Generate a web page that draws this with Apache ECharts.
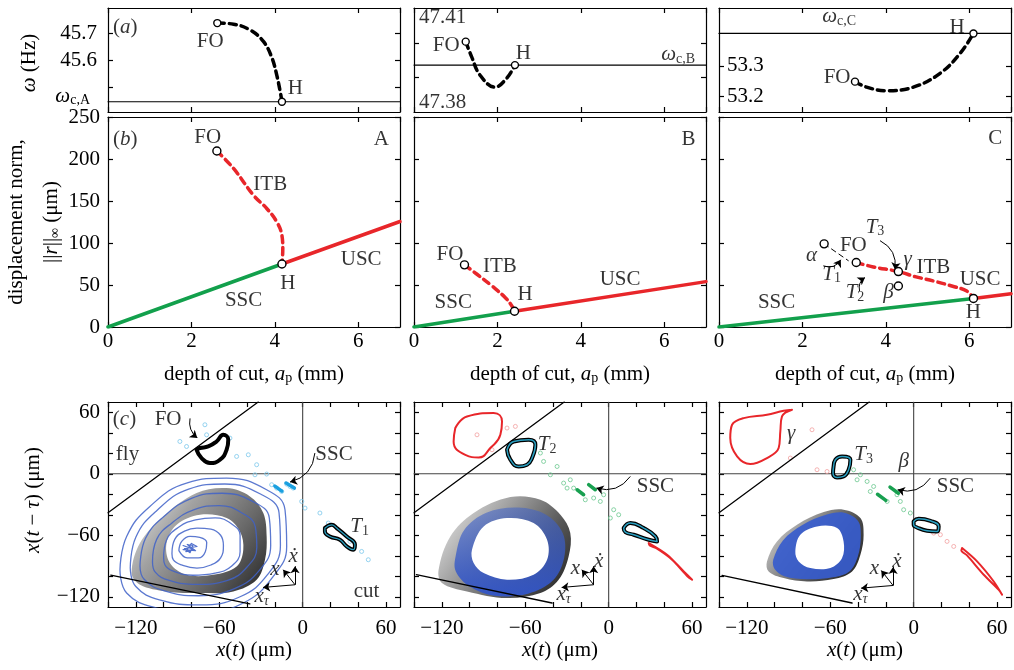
<!DOCTYPE html>
<html><head><meta charset="utf-8">
<script src="https://cdn.jsdelivr.net/npm/echarts@6/dist/echarts.min.js"></script>
<style>html,body{margin:0;padding:0;background:#fff}#c{width:1014px;height:670px}</style>
</head><body><div id="c"></div><script>
// ---------------- DATA ----------------
// Row (a): frequency of the unstable periodic orbit vs depth of cut
const freqA = [[2.62,45.737],[3.01,45.733],[3.41,45.711],[3.73,45.668],[3.93,45.608],[4.05,45.541],[4.13,45.481],[4.17,45.445]];
const freqB = [[1.24,47.4004],[1.38,47.3960],[1.58,47.3906],[1.94,47.3870],[2.22,47.3896],[2.42,47.3935]];
const freqC = [[3.26,53.249],[3.54,53.231],[4.02,53.219],[4.66,53.231],[5.30,53.276],[5.78,53.341],[6.10,53.406]];
const omegaCrit = [45.445, 47.3935, 53.406];
const freqPtsA = [[2.62,45.737],[4.17,45.445]];
const freqPtsB = [[1.24,47.4004],[2.42,47.3935]];
const freqPtsC = [[3.26,53.249],[6.10,53.406]];

// Row (b): displacement norm vs depth of cut
const sscA = [[0,0],[4.17,75]];
const uscA = [[4.17,75],[7,125.6]];
const itbA = [[2.61,209.5],[3.01,188.7],[3.49,156.7],[3.81,140.8],[4.05,124.8],[4.17,108.8],[4.19,92.8],[4.17,75]];
const sscB = [[0,0],[2.41,18.8]];
const uscB = [[2.41,18.8],[7,54]];
const itbB = [[1.21,74],[1.51,62.8],[1.87,48.8],[2.19,34.9],[2.35,24.8],[2.41,18.8]];
const sscC = [[0,0],[6.1,34]];
const uscC = [[6.1,34],[7,39.7]];
const itbC = [[3.29,76.8],[3.7,71.5],[4.3,66],[4.7,60],[5.14,54.8],[5.6,48.5],[5.94,42.8],[6.1,34]];
const alphaBranch = [[2.52,99],[3.1,79]];
const normPtsA = [[2.61,209.5],[4.17,75]];
const normPtsB = [[1.21,74],[2.41,18.8]];
const normPtsC = [[3.29,76.8],[6.1,34],[2.52,99],[4.3,48.8],[4.3,66]];

// Row (c): phase portraits x(t) vs x(t - tau)
const flyLine = [[-140,-38],[-32,70]];
const edgeLineA = [[-138,-99],[-38,-127]];
const edgeLineB = [[-138.3,-98.5],[-40.7,-126.1]];
const edgeLineC = [[-137.8,-99.2],[-44.3,-126.1]];

const torusOuterA = [[-123,-96.9],[-117,-67.6],[-100.3,-41.6],[-76.3,-18.8],[-54.7,-14],[-37.9,-22.1],[-28.3,-38.3],[-25.9,-61.2],[-27.1,-83.9],[-33.1,-103.4],[-49.9,-114.8],[-73.9,-116.4],[-97.9,-114.8],[-117,-108.3]];
const torusHoleA = [[-97.9,-67.6],[-90.6,-49.8],[-73.9,-40],[-54.7,-43.2],[-45.1,-56.3],[-42.7,-74.1],[-47.5,-90.4],[-64.3,-98.5],[-83.5,-98.5],[-95.5,-87.1]];
const torusOuterB = [[-122.3,-93.7],[-113.9,-61.2],[-97.1,-38.3],[-70.7,-22.8],[-49.1,-25.4],[-34.7,-40],[-27.6,-57.9],[-28.8,-80.7],[-36,-103.4],[-49.1,-116.4],[-73.1,-121.3],[-101.9,-114.8],[-119.9,-106.6]];
const torusHoleB = [[-98.3,-74.1],[-89.9,-51.4],[-73.1,-43.2],[-54,-48.1],[-44.3,-64.4],[-44.3,-83.9],[-54,-98.5],[-73.1,-103.4],[-89.9,-96.9],[-97.1,-87.1]];
const blueBandB = [[-110,-80],[-104,-55],[-88,-38],[-65,-33],[-45,-40],[-33,-58],[-32,-82],[-40,-104],[-58,-117],[-82,-119],[-100,-110],[-110,-95]];
const torusOuterC = [[-105.5,-85.5],[-98.3,-66],[-83.9,-49.8],[-64.7,-37.4],[-50.4,-35.1],[-38.3,-43.2],[-36,-59.5],[-38.3,-79],[-44.3,-95.3],[-57.6,-102.8],[-76.7,-105.1],[-93.5,-101.8],[-104.3,-95.3]];
const torusHoleC = [[-85.1,-75.8],[-81.5,-59.5],[-69.5,-51.4],[-55.1,-53],[-50.4,-66],[-51.5,-82.3],[-59.9,-92],[-74.3,-92],[-82.7,-85.5]];
const blueBandC = [[-101,-84],[-94,-65],[-80,-50],[-63,-40],[-50,-38],[-40,-46],[-38,-60],[-40,-80],[-46,-95],[-58,-101],[-77,-103],[-93,-100],[-100,-93]];

// blue transient spiral (case A)
const spiralA = [
 [[-131.4,-93.7],[-126.6,-61.2],[-109.9,-31.9],[-83.5,-9.1],[-54.7,-4.2],[-25.9,-15.6],[-12.7,-35.1],[-11.5,-70.9],[-21.2,-100.2],[-42.7,-126.1],[-73.9,-135.9],[-105,-131],[-126.6,-116.4]],
 [[-124,-92],[-120,-62],[-105,-36],[-82,-15],[-56,-10],[-30,-20],[-17,-38],[-16,-70],[-25,-98],[-45,-120],[-74,-128],[-103,-123],[-120,-110]],
 [[-117,-90],[-113,-63],[-100,-42],[-80,-24],[-58,-19],[-36,-27],[-24,-43],[-23,-70],[-31,-94],[-49,-112],[-75,-119],[-100,-114],[-114,-103]],
 [[-108,-86],[-105,-64],[-94,-48],[-78,-35],[-60,-31],[-44,-38],[-34,-52],[-33,-72],[-40,-91],[-54,-104],[-76,-108],[-96,-104],[-106,-96]],
 [[-100,-82],[-98,-65],[-89,-52],[-77,-45],[-63,-43],[-51,-49],[-45,-60],[-45,-76],[-51,-90],[-63,-97],[-79,-99],[-93,-95],[-99,-89]],
 [[-94,-78],[-92,-64],[-85,-56],[-76,-53],[-66,-54],[-59,-60],[-57,-70],[-59,-82],[-66,-89],[-76,-92],[-87,-89],[-93,-84]],
 [[-89,-75],[-87,-66],[-81,-61],[-74,-62],[-69,-67],[-70,-76],[-75,-82],[-83,-82]]
];
const spiralCoreA = [[-86,-70],[-78,-74],[-84,-76],[-80,-68],[-76,-71],[-85,-73],[-81,-77],[-79,-70],[-83,-69],[-77,-75],[-86,-74]];

const foOrbitA = [[-76.3,23.4],[-72.7,15.3],[-66.7,10.4],[-59.5,13.7],[-54.7,23.4],[-53.5,33.2],[-57.1,38],[-61.9,31.5],[-67.9,26.6],[-73.9,25.1]];
const t1OrbitA = [[16,-53],[20.9,-49.8],[24.5,-53],[31.7,-61.2],[37.6,-69.3],[36.4,-74.1],[31.7,-70.9],[26.8,-64.4],[19.6,-61.2],[16,-56.3]];
const dotsA = [[-70.3,47.8],[-69.1,38],[-83.5,26.6],[-88.3,31.5],[-52.3,34.8],[-47.5,16.9],[-39.1,18.5],[-33.1,8.8],[-34.3,-1],[-25.9,-0.3],[-22.3,-10.7],[-18.7,-14],[-15.1,-17.3],[-11.5,-10.1],[-9.1,-12.4],[-6.8,-14],[-0.7,-27],[1.7,-33.5],[12.4,-38.3],[18.4,-48.1],[34,-66],[42.4,-75.8],[47.2,-83.9]];
const sscSegA = [[[-20,-12],[-15,-17]],[[-12,-9],[-6,-14]]];

const redOrbitB = [[-110.3,44.6],[-101.9,55.9],[-82.7,59.2],[-76.7,51],[-77.9,38],[-85.1,25.1],[-93.5,15.9],[-103.1,18.5],[-111.5,31.5]];
const t2OrbitUpB = [[-73.1,23.4],[-68.3,31.5],[-57.6,33.2],[-52.7,28.3],[-55.1,15.3],[-58.7,8.8],[-64.7,7.1],[-70.7,13.7]];
const t2OrbitLoB = [[10.8,-53],[15.6,-48.1],[25.2,-53],[33.6,-61.2],[34.8,-66],[28.8,-64.4],[18,-59.5],[12,-56.9]];
const redTailB = [[28.8,-67.6],[42,-79],[54,-95.3],[60,-103.4],[56.8,-100.2],[45.6,-83.9],[34.8,-73.2],[29.5,-70]];
const greenDotsB = [[-49.1,20.2],[-46.8,12],[-41.9,-1],[-37.1,7.1],[-32.4,-9.1],[-27.6,-5.9],[-25.2,-14],[-16.8,-25.4],[-6,-27],[-3.6,-20.5],[3.6,-35.1],[7.2,-40],[1.2,-43.2],[-10.8,-23.7],[-29.9,-14]];
const pinkDotsB = [[-94.7,38],[-73.1,44.6],[-67.1,46.2],[-83.9,23.4]];
const sscSegB = [[[-22.7,-15.6],[-18,-20.5]],[[-14.4,-10.7],[-9.6,-15.6]]];

const gammaOrbitC = [[-87.5,62.4],[-94.7,55.9],[-95.9,41.3],[-97.1,25.1],[-105.5,15.3],[-117.5,9.4],[-127,16.9],[-131.9,34.8],[-130.6,47.8],[-122.3,54.3],[-105.5,57.6],[-93.5,61.5]];
const t3OrbitUpC = [[-57.6,7.1],[-56.3,13.7],[-51.5,16.9],[-45.5,13.7],[-46.8,3.9],[-50.4,-2.6],[-55.1,-3.6],[-58,0.7]];
const t3OrbitLoC = [[0,-46.5],[3.6,-43.9],[12,-45.9],[18,-51.4],[16.8,-56.3],[9.6,-55.6],[2.4,-52.4],[0,-49.8]];
const redTailC = [[34.8,-72.5],[45.6,-85.5],[57.6,-105.1],[63.6,-118],[61.2,-113.2],[50.4,-98.5],[38.4,-79.7],[34.3,-74.8]];
const greenDotsC = [[-47.9,0.7],[-43.2,3.9],[-38.3,-1],[-33.5,-7.5],[-28.8,-12.4],[-19.1,-27],[-9.6,-27],[-7.2,-35.1],[-2.4,-38.3],[-12,-20.5],[-40.7,-5.9],[-31.2,-17.3]];
const pinkDotsC = [[-88.7,15.3],[-73.1,42.9],[-69.5,3.9],[-62.3,2.2],[14.4,-57.9],[19.2,-59.5],[24,-66],[28.8,-70.9]];
const sscSegC = [[[-26,-20],[-20,-26]],[[-17,-13],[-11,-19]]];

// coordinate triad (origin and arrow directions, data units)
const triadOrigin = [[-5.5,-108.3],[-10.8,-108.3],[-14.8,-109]];
const triadDirs = [[0,18],[-23,-2.6],[-8.5,14.6]];

// ---------------- STYLE ----------------
const F = "'Liberation Serif','Times New Roman',serif";
const FS = 21, SUB = 14;
const rich = {
  i:{fontFamily:F,fontSize:FS,fontStyle:'italic',color:'#000'},
  s:{fontFamily:F,fontSize:SUB,color:'#000',padding:[9,0,0,0]},
  si:{fontFamily:F,fontSize:SUB,fontStyle:'italic',color:'#000',padding:[9,0,0,0]}
};
const RED='#e8262a', GREEN='#12a04c', BLUE='#3f62c8';
const COLS=[108,414,719], PW=292;
const ROWS=[[8,104],[117,210],[402,205]];
const minus = v => (v<0?'\u2212'+Math.abs(v):String(v));

const grids=[], xAxes=[], yAxes=[], series=[];
function axis(gi,pos,spec,showLabel){
  const a={type:'value',gridIndex:gi,position:pos,min:spec.min,max:spec.max,scale:true,
    axisLine:{show:true,onZero:false,lineStyle:{color:'#000',width:1.2}},
    axisTick:{show:true,inside:true,length:5,lineStyle:{color:'#000',width:1.2}},
    splitLine:{show:false},
    axisLabel:{show:!!showLabel,fontFamily:F,fontSize:FS,color:'#000',margin:spec.margin==null?8:spec.margin,rich:rich,
      showMinLabel:true,showMaxLabel:spec.noMax?false:true}};
  if(spec.interval!=null) a.interval=spec.interval;
  if(spec.ticks) a.axisTick.customValues=spec.ticks;
  if(spec.labels) a.axisLabel.customValues=spec.labels;
  if(spec.fmt) a.axisLabel.formatter=spec.fmt;
  if(spec.inside) a.axisLabel.inside=true;
  return a;
}
const xSpecs=[
  {min:0,max:7,interval:2,noMax:true},
  {min:0,max:7,interval:2,margin:4,noMax:true,fmt:v=>(v>6.5?'':String(v))},
  {min:-140,max:70,interval:20,margin:11,noMax:true,fmt:v=>([-120,-60,0,60].indexOf(v)>=0?minus(v):'')}
];
const ySpecs=[
  [{min:45.407,max:45.793,ticks:[45.5,45.6,45.7],labels:[45.6,45.7],margin:11,fmt:v=>v.toFixed(1)},
   {min:47.3797,max:47.4103,ticks:[47.39,47.40]},
   {min:53.15,max:53.489,ticks:[53.2,53.3],labels:[53.2,53.3],inside:true,margin:8,fmt:v=>v.toFixed(1)}],
  [{min:0,max:250,interval:50,margin:8},{min:0,max:250,interval:50},{min:0,max:250,interval:50}],
  [{min:-130,max:70,ticks:[-120,-100,-80,-60,-40,-20,0,20,40,60],labels:[-120,-60,0,60],margin:8,fmt:v=>minus(v)},
   {min:-130,max:70,ticks:[-120,-100,-80,-60,-40,-20,0,20,40,60]},
   {min:-130,max:70,ticks:[-120,-100,-80,-60,-40,-20,0,20,40,60]}]
];
for(let r=0;r<3;r++) for(let c=0;c<3;c++){
  const gi=r*3+c;
  grids.push({left:COLS[c],top:ROWS[r][0],width:PW,height:ROWS[r][1],show:false,containLabel:false});
  xAxes.push(axis(gi,'bottom',xSpecs[r],r>=1));
  xAxes.push(axis(gi,'top',xSpecs[r],false));
  const ys=ySpecs[r][c];
  yAxes.push(axis(gi,'left',ys,(r===0&&c!==1)||(r>=1&&c===0)));
  yAxes.push(axis(gi,'right',ys,false));
}

// ---------------- SERIES HELPERS ----------------
const ax = gi => ({xAxisIndex:2*gi,yAxisIndex:2*gi});
function lineS(gi,data,color,width,opts){
  opts=opts||{};
  return Object.assign({type:'line',data:data,symbol:'none',showSymbol:false,silent:true,clip:true,
    smooth:opts.smooth||false,z:opts.z||3,
    lineStyle:{color:color,width:width,type:opts.dash||'solid',opacity:opts.opacity==null?1:opts.opacity,cap:'round',join:'round'}},ax(gi));
}
const closeLoop = a => a.concat([a[0]]);
function ptsS(gi,data,size){
  return Object.assign({type:'scatter',data:data,symbol:'circle',symbolSize:size||8,silent:true,z:10,
    itemStyle:{color:'#fff',borderColor:'#000',borderWidth:1.4,opacity:1}},ax(gi));
}
function dotsS(gi,data,color,z){
  return Object.assign({type:'scatter',data:data,symbol:'circle',symbolSize:4,silent:true,z:z||4,
    itemStyle:{color:'rgba(255,255,255,0)',borderColor:color,borderWidth:1}},ax(gi));
}
function textS(gi,items){
  return Object.assign({type:'scatter',symbolSize:1,silent:true,z:20,itemStyle:{color:'rgba(0,0,0,0)'},
    data:items.map(t=>({value:[t[0],t[1]],name:t[2],label:{align:t[3]||'center'}})),
    label:{show:true,position:'inside',formatter:'{b}',fontFamily:F,fontSize:FS,color:'#000',verticalAlign:'middle',rich:rich}},ax(gi));
}
function arrowS(gi,pairs,curv){
  return Object.assign({type:'lines',coordinateSystem:'cartesian2d',silent:true,z:15,
    symbol:['none','arrow'],symbolSize:7,
    lineStyle:{color:'#000',width:1,curveness:curv||0,opacity:1},
    data:pairs.map(p=>({coords:p}))},ax(gi));
}
function polyS(gi,pts,fill,opacity,z,stroke){
  return Object.assign({type:'custom',silent:true,z:z||2,data:[[0,0]],
    renderItem:(params,api)=>({type:'polygon',shape:{points:pts.map(p=>api.coord(p)),smooth:0.35},
      style:{fill:fill,opacity:opacity==null?1:opacity,stroke:stroke||null,lineWidth:stroke?1:0}})},ax(gi));
}
const grad = (stops)=>new echarts.graphic.LinearGradient(0,0,1,1,stops.map((c,i)=>({offset:i/(stops.length-1),color:c})));

// ---------------- ROW (a) ----------------
[[freqA,freqPtsA],[freqB,freqPtsB],[freqC,freqPtsC]].forEach((d,c)=>{
  series.push(lineS(c,[[0,omegaCrit[c]],[7,omegaCrit[c]]],'#000',1.2));
  series.push(lineS(c,d[0],'#000',3.5,{dash:[7,5],smooth:0.4,z:4}));
  series.push(ptsS(c,d[1],7));
});
series.push(textS(0,[[0.12,45.722,'({i|a})','left'],[2.45,45.670,'FO'],[4.49,45.493,'H']]));
series.push(textS(1,[[0.12,47.4074,'47.41','left'],[0.12,47.3826,'47.38','left'],[0.77,47.3994,'FO'],[2.62,47.3968,'H'],[6.74,47.3965,'{i|ω}{s|c,B}','right']]));
series.push(textS(2,[[2.88,53.46,'{i|ω}{s|c,C}'],[5.71,53.427,'H'],[2.83,53.264,'FO']]));

// ---------------- ROW (b) ----------------
[[sscA,uscA,itbA,normPtsA],[sscB,uscB,itbB,normPtsB],[sscC,uscC,itbC,normPtsC]].forEach((d,c)=>{
  const gi=3+c;
  series.push(lineS(gi,d[0],GREEN,3.5));
  series.push(lineS(gi,d[1],RED,3.5));
  series.push(lineS(gi,d[2],RED,3.5,{dash:[7,5],smooth:0.4,z:4}));
});
series.push(lineS(5,alphaBranch,'#000',1,{dash:[5,4]}));
series.push(ptsS(3,normPtsA)); series.push(ptsS(4,normPtsB)); series.push(ptsS(5,normPtsC));
series.push(textS(3,[[0.12,223.5,'({i|b})','left'],[2.39,225.3,'FO'],[6.55,222.7,'A'],[3.89,170,'ITB'],[6.07,80.2,'USC'],[4.31,51.4,'H'],[3.25,31.9,'SSC']]));
series.push(textS(4,[[0.86,86.8,'FO'],[2.06,72.4,'ITB'],[0.94,29.3,'SSC'],[2.66,38.8,'H'],[4.94,56.8,'USC'],[6.58,223.5,'B']]));
series.push(textS(5,[[6.62,224.7,'C'],[2.22,84.8,'{i|α}'],[3.22,97.6,'FO'],[3.74,118.8,'{i|T}{s|3}'],[4.52,80.8,'{i|γ}'],[5.14,70.9,'ITB'],[6.26,56.8,'USC'],[4.06,40.9,'{i|β}'],[6.1,16.9,'H'],[1.38,28.9,'SSC'],[2.7,62.8,'{i|T}{s|1}'],[3.26,40.9,'{i|T}{s|2}']]));
series.push(arrowS(5,[[[3.86,102.8],[4.22,68.5]]],0.35));
series.push(arrowS(5,[[[2.5,72.8],[2.92,80]]],-0.4));
series.push(arrowS(5,[[[3.37,42.8],[3.5,58.9]]],0.35));

// ---------------- ROW (c) ----------------
const edges=[edgeLineA,edgeLineB,edgeLineC];
for(let c=0;c<3;c++){
  const gi=6+c;
  series.push(lineS(gi,[[0,-130],[0,70]],'#444',1.1,{z:1}));
  series.push(lineS(gi,[[-140,0],[70,0]],'#444',1.1,{z:1}));
  series.push(lineS(gi,flyLine,'#000',1.3,{z:6}));
  series.push(lineS(gi,edges[c],'#000',1.3,{z:6}));
  const o=triadOrigin[c];
  series.push(arrowS(gi,triadDirs.map(d=>[o,[o[0]+d[0],o[1]+d[1]]]),0));
}
// case A
series.push(polyS(6,torusOuterA,grad(['#f2f2f2','#9a9a9a','#5a5a5a','#111']),0.92,2));
series.push(polyS(6,torusHoleA,'#fff',1,3));
spiralA.forEach(l=>series.push(lineS(6,closeLoop(l),BLUE,1.3,{smooth:0.45,opacity:0.85,z:5})));
series.push(lineS(6,spiralCoreA,BLUE,1.2,{opacity:0.9,z:5}));
series.push(dotsS(6,dotsA,'#7cc8ec'));
sscSegA.forEach(s=>series.push(lineS(6,s,'#1aa0e0',3.5,{z:6})));
series.push(lineS(6,closeLoop(foOrbitA),'#000',4,{smooth:0.5,z:7}));
series.push(lineS(6,closeLoop(t1OrbitA),'#000',4,{smooth:0.5,z:7}));
series.push(lineS(6,closeLoop(t1OrbitA),'#2a9fc0',1.2,{smooth:0.5,z:8}));
series.push(arrowS(6,[[[-81,54],[-75.8,35]]],-0.3));
series.push(arrowS(6,[[[8.8,20.2],[-9.1,-8.1]]],0.35));
series.push(textS(6,[[-136.5,52.7,'({i|c})','left'],[-96.8,52.7,'FO'],[-126,18.5,'fly'],[22.5,18.5,'SSC'],[41,-51.4,'{i|T}{s|1}'],[46,-114.8,'cut'],[-6.8,-80.7,'{i|ẋ}'],[-19.9,-93.7,'{i|x}'],[-29.5,-119.7,'{i|x}{si|τ}']]));
// case B
series.push(polyS(7,torusOuterB,grad(['#f4f4f4','#a0a0a0','#4a4a4a','#0c0c0c']),0.92,2));
series.push(polyS(7,blueBandB,new echarts.graphic.LinearGradient(0,0,0,1,[{offset:0,color:'rgba(63,98,200,0.55)'},{offset:1,color:'rgba(50,85,200,0.95)'}]),1,3));
series.push(polyS(7,torusHoleB,'#fff',1,4));
series.push(lineS(7,closeLoop(redOrbitB),RED,2,{smooth:0.5,z:6}));
series.push(lineS(7,closeLoop(redTailB),RED,2,{smooth:0.3,z:6}));
series.push(dotsS(7,greenDotsB,'#6cc890'));
series.push(dotsS(7,pinkDotsB,'#f2a0a0'));
sscSegB.forEach(s=>series.push(lineS(7,s,'#18a050',3.5,{z:6})));
series.push(lineS(7,closeLoop(t2OrbitUpB),'#000',4,{smooth:0.5,z:7}));
series.push(lineS(7,closeLoop(t2OrbitUpB),'#2a9fc0',1.5,{smooth:0.5,z:8}));
series.push(lineS(7,closeLoop(t2OrbitLoB),'#000',4,{smooth:0.5,z:7}));
series.push(lineS(7,closeLoop(t2OrbitLoB),'#2a9fc0',1.5,{smooth:0.5,z:8}));
series.push(arrowS(7,[[[15.6,-2.6],[-8.8,-14]]],0.35));
series.push(textS(7,[[-44.3,28.3,'{i|T}{s|2}'],[33.6,-12.4,'SSC'],[-7.2,-85.5,'{i|ẋ}'],[-24,-92,'{i|x}'],[-32.4,-118,'{i|x}{si|τ}']]));
// case C
series.push(polyS(8,torusOuterC,grad(['#e8e8e8','#909090','#3a3a3a','#0a0a0a']),0.92,2));
series.push(polyS(8,blueBandC,'rgba(55,92,205,0.92)',1,3));
series.push(polyS(8,torusHoleC,'#fff',1,4));
series.push(lineS(8,closeLoop(gammaOrbitC),RED,2,{smooth:0.4,z:6}));
series.push(lineS(8,closeLoop(redTailC),RED,2,{smooth:0.3,z:6}));
series.push(dotsS(8,greenDotsC,'#6cc890'));
series.push(dotsS(8,pinkDotsC,'#f2a0a0'));
sscSegC.forEach(s=>series.push(lineS(8,s,'#18a050',3.5,{z:6})));
series.push(lineS(8,closeLoop(t3OrbitUpC),'#000',4,{smooth:0.5,z:7}));
series.push(lineS(8,closeLoop(t3OrbitUpC),'#2a9fc0',1.5,{smooth:0.5,z:8}));
series.push(lineS(8,closeLoop(t3OrbitLoC),'#000',4,{smooth:0.5,z:7}));
series.push(lineS(8,closeLoop(t3OrbitLoC),'#2a9fc0',1.5,{smooth:0.5,z:8}));
series.push(arrowS(8,[[[12,-4.2],[-11.5,-15.6]]],0.35));
series.push(textS(8,[[-88.2,39.7,'{i|γ}'],[-36,18.5,'{i|T}{s|3}'],[-7.2,12,'{i|β}'],[30,-12.4,'SSC'],[-12,-85.5,'{i|ẋ}'],[-28.3,-92,'{i|x}'],[-38.3,-118,'{i|x}{si|τ}']]));

// ---------------- AXIS TITLES ----------------
function gtext(x,y,text,rot,align){
  align=align||'center';
  return {type:'text',x:x,y:y,rotation:rot||0,silent:true,z:50,
    style:{text:text,rich:rich,fontFamily:F,fontSize:FS,fill:'#000',align:align,verticalAlign:'middle',textAlign:align,textVerticalAlign:'middle'}};
}
const graphic=[
  gtext(29,63,'{i|ω} (Hz)',Math.PI/2),
  gtext(16,222,'displacement norm,',Math.PI/2),
  gtext(51,222,'||{i|r}||{s|∞} (μm)',Math.PI/2),
  gtext(33,500,'{i|x}({i|t} − {i|τ}) (μm)',Math.PI/2),
  gtext(90,96,'{i|ω}{s|c,A}',0,'right')
];
[254,560,865].forEach(cx=>{
  graphic.push(gtext(cx,374,'depth of cut, {i|a}{s|p} (mm)'));
  graphic.push(gtext(cx,650,'{i|x}({i|t}) (μm)'));
});

const chart=echarts.init(document.getElementById('c'),null,{renderer:'canvas'});
chart.setOption({animation:false,backgroundColor:'#fff',grid:grids,xAxis:xAxes,yAxis:yAxes,series:series,graphic:graphic});
</script></body></html>
